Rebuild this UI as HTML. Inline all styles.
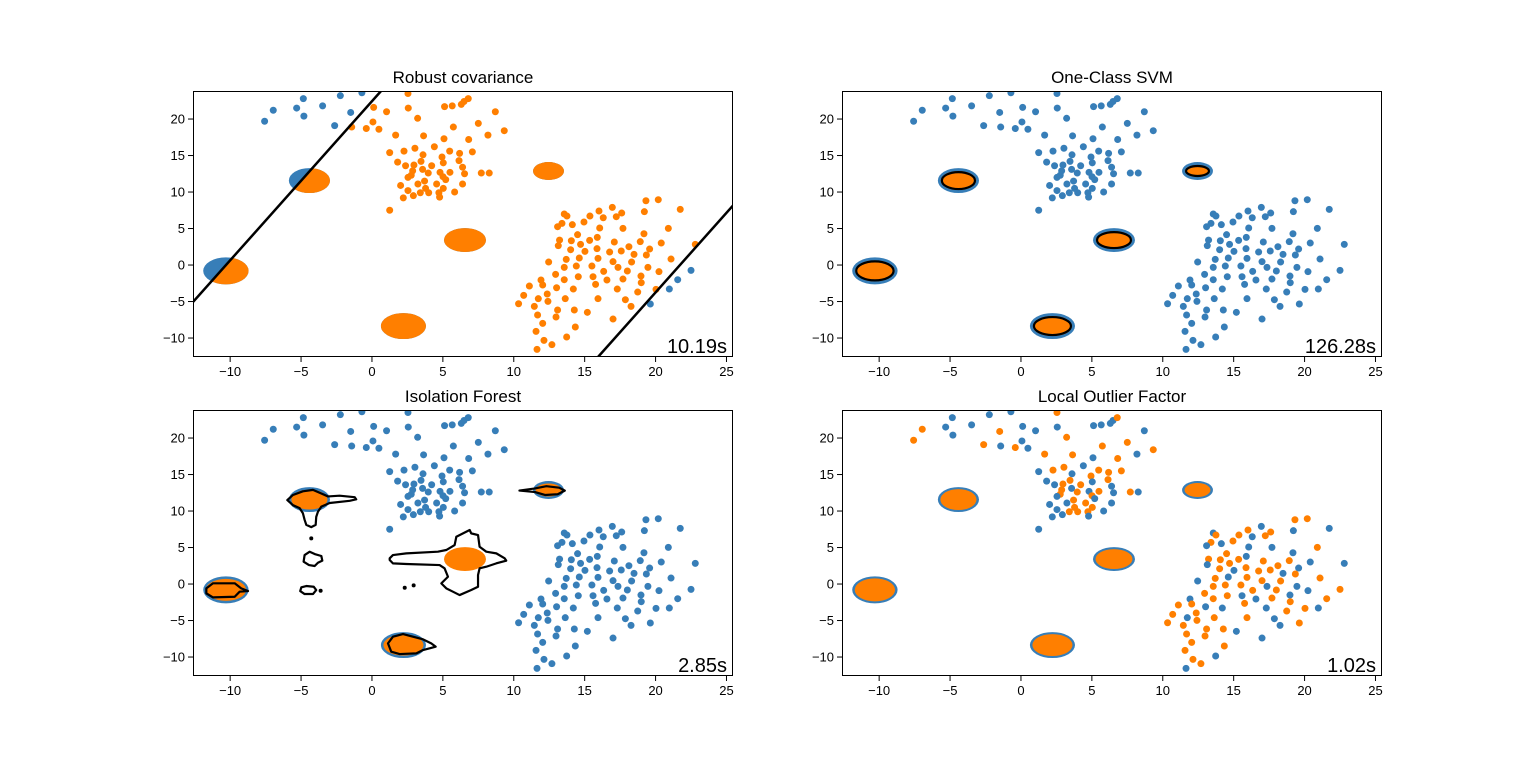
<!DOCTYPE html>
<html><head><meta charset="utf-8"><style>
html,body{margin:0;padding:0;background:#fff;overflow:hidden;width:1536px;height:761px;}
svg{position:absolute;left:0;top:0;display:block;font-family:"Liberation Sans","DejaVu Sans",sans-serif;}
</style></head><body>
<svg id="fig" width="1536" height="761" viewBox="0 0 1536 761" overflow="hidden"></svg>
<script>
// ---------- data ----------
const titles = ["Robust covariance","One-Class SVM","Isolation Forest","Local Outlier Factor"];
const timings = ["10.19s","126.28s","2.85s","1.02s"];
const xTicks = [-10,-5,0,5,10,15,20,25];
const yTicks = [-10,-5,0,5,10,15,20];
// blob clusters: center x, center y, radius x, radius y
const blobX = [-10.3,-4.41,6.56,2.22,12.45];
const blobY = [-0.8,11.57,3.42,-8.36,12.88];
const blobRX = [1.6,1.45,1.48,1.59,1.09];
const blobRY = [1.85,1.71,1.64,1.78,1.23];
// scattered points (upper cluster then lower-right cluster)
const ptX = [-4.84,-6.96,-7.57,-5.31,-4.80,-3.48,-2.23,-0.71,-2.63,-1.50,-1.43,-0.40,0.07,0.12,0.49,1.03,1.67,2.54,2.56,3.22,3.64,5.12,5.66,6.30,6.49,6.79,8.70,5.74,7.50,8.18,9.33,5.08,6.82,7.08,1.25,2.26,3.03,4.40,5.48,6.18,3.60,4.94,1.81,2.37,3.46,2.96,5.03,6.14,2.87,3.57,4.21,2.77,2.54,3.97,4.80,5.50,6.39,6.53,7.71,8.27,5.01,5.20,3.24,3.71,2.02,2.54,3.78,4.56,5.03,6.39,2.92,2.21,3.41,4.00,4.72,4.77,5.83,1.25,
19.32,20.19,21.74,19.21,16.95,16.01,15.37,16.31,17.23,17.61,13.56,13.75,13.40,13.09,14.95,14.13,16.06,17.70,20.90,19.18,14.50,13.23,13.14,14.06,14.71,15.35,15.89,17.09,18.12,18.92,20.40,22.80,14.01,15.02,15.87,16.76,17.58,18.48,19.58,19.35,12.46,13.70,14.62,15.94,17.00,18.31,21.09,13.56,14.41,15.51,16.34,17.35,18.01,19.46,20.24,22.50,12.95,14.55,15.59,13.56,15.77,16.57,17.70,18.97,18.99,21.56,11.92,12.04,11.10,13.02,14.20,17.30,18.74,20.03,20.97,10.70,11.73,12.36,12.41,13.63,15.94,17.87,18.27,19.63,10.34,11.45,13.09,14.27,15.19,11.68,12.98,17.00,12.04,14.34,11.57,13.73,12.13,12.69,11.64];
const ptY = [22.8,21.2,19.7,21.5,20.4,21.8,23.2,23.6,19.1,20.9,18.9,18.7,19.6,21.6,18.6,21.0,17.8,23.5,21.5,20.1,17.7,21.7,21.8,22.0,22.4,22.8,21.0,18.9,19.4,17.8,18.4,17.3,17.2,15.5,15.4,15.6,16.0,16.2,15.6,15.3,15.1,14.8,14.1,13.6,14.2,13.7,14.0,14.3,12.9,13.1,13.6,12.3,12.0,12.6,12.7,12.7,13.4,12.5,12.6,12.6,12.1,11.7,11.1,11.5,10.9,10.2,10.5,11.1,10.5,11.1,9.5,9.2,9.9,9.9,9.9,9.3,10.0,7.5,
8.81,8.95,7.62,7.31,7.90,7.40,6.71,6.48,6.62,7.12,6.99,6.71,5.71,5.25,5.89,5.53,5.07,5.02,5.02,4.29,4.16,3.42,2.65,3.33,2.83,3.38,3.79,3.15,2.51,3.20,3.01,2.83,2.10,1.87,2.24,1.78,1.92,1.46,2.19,1.37,0.41,0.78,0.96,0.91,0.46,0.41,0.82,-0.32,-0.14,-0.14,-0.87,-0.32,-0.82,-0.32,-0.91,-0.73,-1.28,-1.60,-1.60,-2.01,-2.65,-2.05,-1.92,-1.51,-2.42,-2.01,-2.05,-2.74,-2.88,-3.11,-3.29,-3.29,-3.70,-3.33,-3.29,-4.16,-4.61,-3.97,-4.98,-4.61,-4.61,-4.75,-5.66,-5.34,-5.30,-5.66,-6.16,-6.16,-6.48,-6.85,-7.12,-7.40,-7.99,-8.49,-9.09,-9.86,-10.32,-10.91,-11.55];
// LOF outlier flags (1 = inlier/orange, 0 = outlier/blue)
const lofInlier = [0,1,1,0,0,0,0,0,1,1,0,1,0,0,0,0,1,1,0,1,1,0,0,0,0,1,0,1,1,0,1,0,1,1,0,1,1,0,1,1,0,1,0,0,1,1,0,1,1,0,1,1,0,1,0,1,0,0,1,0,1,0,0,1,0,0,1,1,1,0,0,0,1,1,1,0,0,0,
1,1,0,0,0,1,1,0,1,1,0,1,1,0,1,0,0,0,1,0,1,1,0,1,1,1,0,1,1,1,0,0,1,0,1,1,1,0,0,1,0,1,0,1,1,1,1,1,1,1,1,0,1,0,0,1,1,1,0,1,1,0,1,0,1,1,0,1,1,0,0,0,1,1,0,1,0,1,1,1,1,0,0,1,1,1,1,1,0,1,1,0,1,1,1,0,1,1,0];
// robust covariance decision boundary: slope and two anchor points
const rcSlope = 2.18;
const rcLineX = [-12.62, 15.94];
const rcLineY = [-5.07, -12.6];
// isolation forest contour polygons (data coords)
const ifContours = [
 [[-5.97,11.5],[-5.57,12.2],[-4.87,12.7],[-4.16,12.9],[-3.57,12.4],[-3.10,12.0],[-2.28,12.1],[-1.22,11.9],[-1.11,11.6],[-1.57,11.4],[-2.98,11.1],[-3.57,10.6],[-3.81,9.9],[-3.93,9.2],[-3.97,8.1],[-4.28,7.8],[-4.63,8.1],[-4.75,8.8],[-4.87,9.7],[-5.10,10.4],[-5.57,10.8]],
 [[-4.75,3.97],[-4.39,4.43],[-4.04,4.11],[-3.57,3.84],[-3.50,3.20],[-3.81,2.92],[-4.04,2.47],[-4.44,2.60],[-4.82,3.06]],
 [[-4.98,-0.45],[-4.63,-0.27],[-4.11,-0.37],[-3.93,-0.82],[-4.16,-1.37],[-4.75,-1.37],[-5.06,-0.96]],
 [[1.25,3.52],[1.48,3.97],[2.42,4.20],[4.65,4.43],[5.24,4.66],[5.83,5.34],[5.95,6.48],[6.42,6.94],[6.89,7.40],[7.00,6.94],[7.48,6.71],[7.59,5.11],[8.06,4.43],[8.77,4.20],[9.36,3.52],[9.47,3.20],[8.77,2.83],[8.06,2.37],[7.59,2.15],[7.48,1.23],[7.48,-0.37],[7.00,-0.82],[6.18,-1.51],[5.71,-1.05],[5.24,-0.59],[4.89,0.09],[5.36,1.00],[5.12,2.15],[4.77,2.60],[2.42,2.74],[1.48,2.83],[1.25,3.29]],
 [[-11.68,-0.59],[-11.21,0.10],[-9.68,0.10],[-9.22,-0.59],[-8.74,-0.96],[-9.33,-1.05],[-9.68,-1.74],[-11.21,-1.83],[-11.68,-1.28]],
 [[1.13,-8.13],[1.48,-7.21],[2.19,-6.85],[2.89,-7.21],[3.60,-7.58],[4.18,-8.13],[4.49,-8.58],[4.07,-8.81],[3.60,-9.04],[3.13,-9.50],[1.95,-9.59],[1.36,-9.27]],
 [[10.4,12.8],[11.5,13.1],[12.3,13.4],[13.2,13.2],[13.6,12.8],[13.1,12.3],[12.2,12.2],[11.5,12.6]]
];
const ifDotX = [-4.28,-3.62,2.31,2.94];
const ifDotY = [6.26,-0.92,-0.51,-0.18];

// ---------- layout ----------
const BLUE="#377eb8", ORANGE="#ff7f00";
const panels=[{x:193,y:91},{x:842,y:91},{x:193,y:410},{x:842,y:410}];
const PW=540, PH=266, XMIN=-12.62, XMAX=25.46, YMAX=23.84, YMIN=23.84-266/7.3;
const NS="http://www.w3.org/2000/svg";
const svg=document.getElementById('fig');
function el(tag,attrs,parent){const e=document.createElementNS(NS,tag);for(const k in attrs)e.setAttribute(k,attrs[k]);(parent||svg).appendChild(e);return e;}

panels.forEach((p,pi)=>{
  const sx=x=>p.x+(x-XMIN)/(XMAX-XMIN)*PW;
  const sy=y=>p.y+(YMAX-y)/(YMAX-YMIN)*PH;
  const g=el('g',{});
  
  
  const cp=el('clipPath',{id:'clip'+pi},g);
  el('rect',{x:p.x,y:p.y,width:PW,height:PH},cp);
  const plot=el('g',{'clip-path':'url(#clip'+pi+')'},g);
  
  

  const lineAt=(k,x)=>rcLineY[k]+rcSlope*(x-rcLineX[k]);
  const lineXAt=(k,y)=>rcLineX[k]+(y-rcLineY[k])/rcSlope;
  if(pi===0){
    const cp2=el('clipPath',{id:'rcin'},g);
    const pts=[[XMIN,lineAt(0,XMIN)],[XMAX,lineAt(0,XMAX)],[XMAX,lineAt(1,XMAX)],[XMIN,lineAt(1,XMIN)]].map(q=>sx(q[0])+','+sy(q[1])).join(' ');
    el('polygon',{points:pts},cp2);
  }
  blobX.forEach((bx,i)=>{
    const cx=sx(bx), cy=sy(blobY[i]), rx=blobRX[i]*14.18, ry=blobRY[i]*7.3;
    const bg=el('g',{},plot);
    
    
    if(pi===0){
      el('ellipse',{cx,cy,rx,ry,fill:BLUE},bg);
      el('ellipse',{cx,cy,rx,ry,fill:ORANGE,'clip-path':'url(#rcin)'},bg);
    } else if(pi===1){
      el('ellipse',{cx,cy,rx,ry,fill:BLUE},bg);
      el('ellipse',{cx,cy,rx:rx-3,ry:ry-3,fill:ORANGE},bg);
      el('ellipse',{cx,cy,rx:rx-4,ry:ry-4,fill:'none',stroke:'#000','stroke-width':2.2},bg);
    } else if(pi===2){
      if(i===2){el('ellipse',{cx,cy,rx,ry,fill:ORANGE},bg);}
      else{el('ellipse',{cx,cy,rx,ry,fill:BLUE},bg);el('ellipse',{cx,cy,rx:rx-2.5,ry:ry-2.5,fill:ORANGE},bg);}
    } else {
      el('ellipse',{cx,cy,rx,ry,fill:BLUE},bg);
      el('ellipse',{cx,cy,rx:rx-2.5,ry:ry-2,fill:ORANGE},bg);
    }
  });
  ptX.forEach((x,i)=>{
    const y=ptY[i];
    let inl;
    if(pi===0) inl = (y<lineAt(0,x) && y>lineAt(1,x));
    else if(pi===3) inl = lofInlier[i]===1;
    else inl=false;
    const c=el('circle',{cx:sx(x),cy:sy(y),r:3.5,fill:inl?ORANGE:BLUE},plot);
    
    
  });
  if(pi===0){
    rcLineX.forEach((lx,k)=>{
      const xa=lineXAt(k,YMIN), xb=lineXAt(k,YMAX);
      const l=el('line',{x1:sx(xa),y1:sy(YMIN),x2:sx(xb),y2:sy(YMAX),stroke:'#000','stroke-width':2.5},plot);
      
      
    });
  }
  if(pi===2){
    ifContours.forEach(poly=>{
      const pg=el('polygon',{points:poly.map(q=>sx(q[0])+','+sy(q[1])).join(' '),fill:'none',stroke:'#000','stroke-width':2.2,'stroke-linejoin':'round'},plot);
      
      
    });
    ifDotX.forEach((x,i)=>{
      const d=el('circle',{cx:sx(x),cy:sy(ifDotY[i]),r:2,fill:'#000'},plot);
      
      
    });
  }
  const fr=el('rect',{x:p.x+0.5,y:p.y+0.5,width:PW-1,height:PH-1,fill:'none',stroke:'#000','stroke-width':1},g);
  
  
  xTicks.forEach(t=>{
    const x=sx(t);
    el('line',{x1:x,y1:p.y+PH,x2:x,y2:p.y+PH+5,stroke:'#000','stroke-width':1},g);
    const tx=el('text',{x:x,y:p.y+PH+19,'font-size':13,'text-anchor':'middle',fill:'#000'},g);
    tx.textContent=(t<0?'\u2212':'')+Math.abs(t);
    
    
  });
  yTicks.forEach(t=>{
    const y=sy(t);
    el('line',{x1:p.x-5,y1:y,x2:p.x,y2:y,stroke:'#000','stroke-width':1},g);
    const ty=el('text',{x:p.x-8,y:y+4.5,'font-size':13,'text-anchor':'end',fill:'#000'},g);
    ty.textContent=(t<0?'\u2212':'')+Math.abs(t);
    
    
  });
  const tt=el('text',{x:p.x+PW/2,y:p.y-8,'font-size':17,'text-anchor':'middle',fill:'#000'},g);
  tt.textContent=titles[pi];
  
  
  const tm=el('text',{x:p.x+PW-6,y:p.y+PH-4,'font-size':20,'text-anchor':'end',fill:'#000'},g);
  tm.textContent=timings[pi];
  
  
});
</script>
</body></html>
